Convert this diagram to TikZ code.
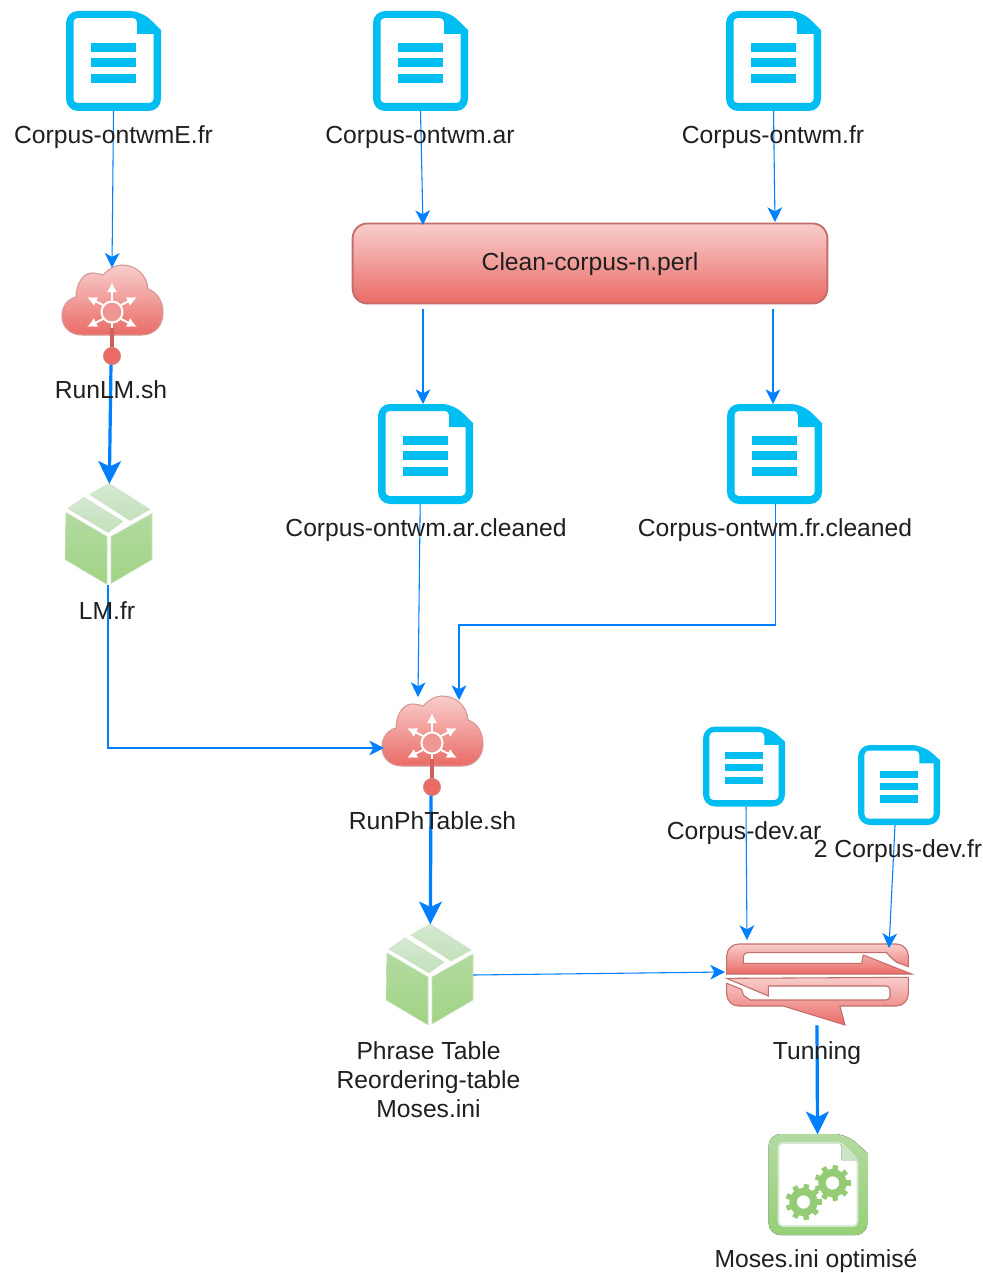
\documentclass[tikz,border=0pt]{standalone}
\usepackage{fontspec}
\setmainfont{Liberation Sans}
\usetikzlibrary{arrows.meta}
\definecolor{linkblue}{HTML}{007FFF}
\definecolor{docblue}{HTML}{00BEF2}
\definecolor{redtop}{HTML}{F8CECC}
\definecolor{redbot}{HTML}{EA6B66}
\definecolor{redline}{HTML}{B85450}
\definecolor{greentop}{HTML}{D5E8D4}
\definecolor{greenbot}{HTML}{97D077}
\definecolor{greenline}{HTML}{82B366}
\tikzset{
  spot/.style={inner sep=0pt,outer sep=0pt},
  lab/.style={inner sep=0pt,text=black!88,align=center,font=\fontsize{18.5}{21.75}\selectfont},
  thin link/.style={draw=linkblue,line width=0.8pt,-{Stealth[length=11pt,width=11pt,inset=3pt]}},
  thick link/.style={draw=linkblue,line width=2.4pt,-{Stealth[length=17pt,width=17pt,inset=4pt]}},
  redface/.style={top color=redtop,bottom color=redbot,draw=redline!85,line width=0.8pt},
  greenface/.style={top color=greentop!45!greenbot,bottom color=greenbot!85!greentop,draw=greenline!40,line width=0.4pt},
  greenstrip/.style={top color=greentop,bottom color=greentop!70!greenbot,draw=greenline!40,line width=0.4pt},
  pics/docicon/.style={code={
    \fill[docblue,even odd rule,rounded corners=9pt] (-47.5,-50) -- (28,-50) [sharp corners] -- (47.5,-31)
      [rounded corners=9pt] -- (47.5,50) -- (-47.5,50) -- cycle
      [rounded corners=3pt] (-40,-43) -- (23.5,-43) [sharp corners] -- (23.5,-27) -- (40,-27)
      [rounded corners=3pt] -- (40,42) -- (-40,42) -- cycle;
    \foreach \ytop in {-18,-3,13}
      \fill[docblue] (-22.5,\ytop) rectangle (22,\ytop+9);
  }},
  pics/cloudicon/.style={code={
    \draw[redface,draw=redline!60] (-30,35) .. controls (-42,35) and (-50,27) .. (-50,16)
      .. controls (-50,6) and (-44,-1) .. (-36,-3)
      .. controls (-36,-14) and (-30,-27) .. (-20,-27)
      .. controls (-16,-27) and (-12,-26) .. (-9,-25)
      .. controls (-3,-31) and (3,-35) .. (10,-35)
      .. controls (24,-35) and (35,-25) .. (36,-11)
      .. controls (45,-8) and (51,1) .. (51,13)
      .. controls (51,26) and (42,35) .. (30,35) -- cycle;
    \draw[white,line width=1.5pt,fill=redbot!70] (0,12) circle (10.5);
    \foreach \tipx/\tipy/\fromx/\fromy in {0/-18/0/1,-25/-3/-9/5,25/-3/9/5,-25/27/-9/19,25/27/9/19}
      \draw[white,line width=1.4pt,-{Latex[length=7.5pt,width=7.5pt]}] (\fromx,\fromy) -- (\tipx,\tipy);
    \draw[white,line width=1.4pt] (0,22) -- (0,28);
    \draw[redbot!90!black,line width=3pt] (0,28) -- (0,50);
  }},
  pics/boxicon/.style={code={
    \path[greenstrip] (1,-51) -- (42,-25) -- (22,-14) -- (-18,-40) -- cycle;
    \path[greenstrip] (-24,-37) -- (15,-13) -- (0,-2) -- (-40,-26) -- cycle;
    \path[greenface] (-42,-22) -- (-1,2) -- (-1,50) -- (-43,25) -- cycle;
    \path[greenface] (3,2) -- (44,-21) -- (44,25) -- (3,49) -- cycle;
  }},
  pics/tunicon/.style={code={
    \begin{scope}[shift={(-117,-64)},scale=0.3333]
      \draw[redface] (80,162) [rounded corners=9pt] -- (80,72) -- (625,72) [sharp corners] -- (625,140)
        -- (590,127) -- (570,110) -- (560,98) [rounded corners=3pt] -- (130,98) [sharp corners] -- (130,130)
        -- (485,130) -- (490,105) -- (635,162) -- cycle;
      \draw[redface] (625,172) -- (80,175) -- (205,228) -- (205,198) [rounded corners=3pt] -- (570,198) -- (570,240)
        [sharp corners] -- (150,240) -- (130,225) -- (125,208) -- (80,190) [rounded corners=9pt] -- (80,258)
        [sharp corners] -- (250,258) -- (435,315) -- (420,258) [rounded corners=9pt] -- (625,258) [sharp corners] -- cycle;
    \end{scope}
  }},
  pics/gearicon/.style={code={
    \fill[top color=greentop!45!greenbot,bottom color=greenbot,even odd rule]
      [rounded corners=9pt] (-49,-51) -- (29,-51) [sharp corners] -- (50,-32) [rounded corners=9pt] -- (50,50) -- (-49,50) -- cycle
      [rounded corners=3pt] (-39,-42) -- (24,-42) [sharp corners] -- (24,-25) -- (40,-25) [rounded corners=3pt] -- (40,41) -- (-39,41) -- cycle;
    \draw[greentop,line width=1.2pt,rounded corners=3pt] (-39,-42) -- (24,-42) -- (40,-25) -- (40,41) -- (-39,41) -- cycle;
    \fill[greentop!85!greenbot] (24,-42) -- (40,-25) -- (24,-25) -- cycle;
    \foreach \gearx/\geary in {15/-2,-14/17}
      {
        \begin{scope}[shift={(\gearx,\geary)}]
          \foreach \ang in {0,40,...,320}
            \draw[greenbot!85!greenline,line width=4pt] (\ang:9) -- (\ang:18);
          \draw[greenbot!85!greenline,fill=white,line width=5.5pt] (0,0) circle (10.5);
        \end{scope}
      }
  }}
}
\begin{document}
\begin{tikzpicture}[x=0.75pt,y=-0.75pt]
  \useasboundingbox[fill=white] (0,0) rectangle (982,1273);
  \foreach \name/\x/\y/\wid/\hei in {corpusE/113.5/61/95/100,corpusar/420.5/61/95/100,corpusfr/773.5/61/95/100,
      cleanedar/425.5/454/95/100,cleanedfr/774.5/454/95/100,devar/744/766.5/82/80,devfr/899/785/82/80}
    {
      \node[spot,minimum width=\wid*0.75pt,minimum height=\hei*0.75pt] (\name) at (\x,\y) {};
      \pic[xscale=\wid/95,yscale=\hei/100] at (\name) {docicon};
    }
  \node[spot,redface,line width=1.4pt,rounded corners=11pt,minimum width=356pt,minimum height=60pt] (clean) at (590,263.5) {};

  \node[spot,minimum width=75pt,minimum height=52.5pt] (runlm) at (112,300) {};
  \pic at (runlm) {cloudicon};
  \node[spot,circle,fill=redbot,draw=redline!70,line width=0.4pt,minimum size=13pt] (runlmpin) at (112,356) {};
  \node[spot,minimum width=66pt,minimum height=76pt] (lmfr) at (108,534.5) {};
  \pic at (lmfr) {boxicon};

  \node[spot,minimum width=75pt,minimum height=52.5pt] (runph) at (432,731) {};
  \pic at (runph) {cloudicon};
  \node[spot,circle,fill=redbot,draw=redline!70,line width=0.4pt,minimum size=13pt] (runphpin) at (432,787) {};
  \node[spot,minimum width=66pt,minimum height=76pt] (phrase) at (429,975) {};
  \pic at (phrase) {boxicon};

  \node[spot,minimum width=136pt,minimum height=62pt] (tunning) at (817,984) {};
  \pic at (tunning) {tunicon};
  \node[spot,minimum width=74pt,minimum height=76pt] (mosesopt) at (817.5,1185) {};
  \pic at (mosesopt) {gearicon};

  \coordinate (cleanarin) at (423,225);
  \coordinate (cleanfrin) at (775,222);
  \coordinate (cleanarout) at (423,309);
  \coordinate (cleanfrout) at (773,309);
  \coordinate (runphar) at (418,697);
  \coordinate (runphfr) at (459,700);
  \coordinate (runphlm) at (384,748);
  \coordinate (frbend) at (459,625);
  \coordinate (tunleft) at (725,972);
  \coordinate (tunar) at (747,940);
  \coordinate (tunfr) at (889,948);

  \draw[thin link] (corpusE.south) -- ([yshift=-2pt]runlm.north);
  \draw[thin link] (corpusar.south) -- (cleanarin);
  \draw[thin link] (corpusfr.south) -- (cleanfrin);
  \draw[thin link] (cleanarout) -- (cleanarout |- cleanedar.north);
  \draw[thin link] (cleanfrout) -- (cleanfrout |- cleanedfr.north);
  \draw[thin link] ([xshift=-4pt]cleanedar.south) -- (runphar);
  \draw[thin link] ([xshift=0.75pt]cleanedfr.south) |- (frbend) -- (runphfr);
  \draw[thin link] (lmfr.south) |- (runphlm);
  \draw[thin link] (phrase.east) -- (tunleft);
  \draw[thin link] ([xshift=1.5pt]devar.south) -- (tunar);
  \draw[thin link] ([xshift=-3pt]devfr.south) -- (tunfr);
  \draw[thick link] ([xshift=-0.75pt]runlmpin.south) -- ([xshift=1pt]lmfr.north);
  \draw[thick link] ([xshift=-0.75pt]runphpin.south) -- ([xshift=1pt]phrase.north);
  \draw[thick link] (tunning.south) -- (mosesopt.north);

  \node[spot,lab] (labclean) at (590,264.5) {Clean-corpus-n.perl};
  \node[spot,lab] (labE) at (113.5,137.5) {Corpus-ontwmE.fr};
  \node[spot,lab] (labar) at (420,137.5) {Corpus-ontwm.ar};
  \node[spot,lab] (labfr) at (773,137.5) {Corpus-ontwm.fr};
  \node[spot,lab] (labcleanedar) at (426,530.5) {Corpus-ontwm.ar.cleaned};
  \node[spot,lab] (labcleanedfr) at (775,530.5) {Corpus-ontwm.fr.cleaned};
  \node[spot,lab] (labrunlm) at (111,390) {RunLM.sh};
  \node[spot,lab] (lablm) at (107,611) {LM.fr};
  \node[spot,lab] (labrunph) at (432.5,821) {RunPhTable.sh};
  \node[spot,lab] (labphrase) at (428.5,1080) {Phrase Table\\Reordering-table\\Moses.ini};
  \node[spot,lab] (labdevar) at (744,833.5) {Corpus-dev.ar};
  \node[spot,lab] (labdevfr) at (898,851.5) {2 Corpus-dev.fr};
  \node[spot,lab] (labtun) at (817,1053.5) {Tunning};
  \node[spot,lab] (labopt) at (816,1260.5) {Moses.ini optimisé};
\end{tikzpicture}
\end{document}
